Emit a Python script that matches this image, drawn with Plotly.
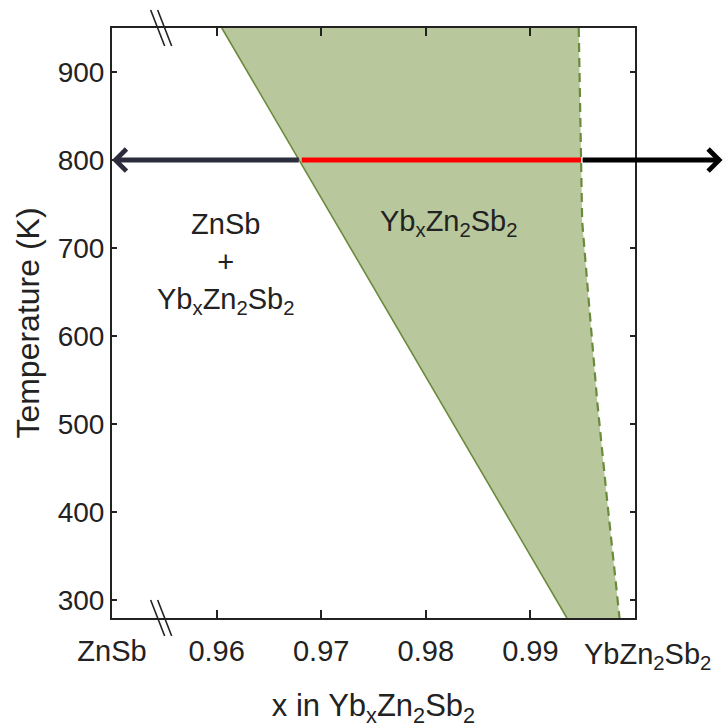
import plotly.graph_objects as go

# ---- data ----
x_tickvals = [0.95, 0.96, 0.97, 0.98, 0.99]
x_ticktext = ["ZnSb", "0.96", "0.97", "0.98", "0.99"]
y_tickvals = [300, 400, 500, 600, 700, 800, 900]
x_range = [0.95, 1.0]
y_range = [280, 950]

# left (ZnSb-rich) phase boundary of Yb_xZn2Sb2
left_T = [950, 280]
left_x = [0.9605, 0.99349]
# right (Yb-rich) phase boundary
right_T = [950, 800, 730, 640, 527, 413, 280]
right_x = [0.99462, 0.99485, 0.99495, 0.99558, 0.99638, 0.99734, 0.99852]

# isotherm at 800 K
iso_T = 800
iso_left_end = 0.95
iso_red_start = 0.9680
iso_red_end = 0.99485
iso_right_end = 1.00837

break_x = 0.9547

FONT = "Liberation Sans, Arial, Helvetica, sans-serif"
FILL = "#b8c89c"
EDGE = "#6a8a3c"

fig = go.Figure()

# shaded single-phase region
fig.add_trace(go.Scatter(
    x=left_x + right_x[::-1], y=left_T + right_T[::-1],
    fill="toself", fillcolor=FILL, mode="none", hoverinfo="skip", showlegend=False))
fig.add_trace(go.Scatter(
    x=left_x, y=left_T, mode="lines",
    line=dict(color=EDGE, width=1.6), hoverinfo="skip", showlegend=False))
fig.add_trace(go.Scatter(
    x=right_x, y=right_T, mode="lines",
    line=dict(color=EDGE, width=2.2, dash="9px,6px"), hoverinfo="skip", showlegend=False))

annotations = []
# left arrow (dark navy)
annotations.append(dict(x=iso_left_end, y=iso_T, ax=iso_red_start, ay=iso_T,
                        xref="x", yref="y", axref="x", ayref="y", text="",
                        showarrow=True, arrowhead=4, arrowsize=0.85, arrowwidth=5,
                        arrowcolor="#2b2d3c"))
# red segment
annotations.append(dict(x=iso_red_end, y=iso_T, ax=iso_red_start, ay=iso_T,
                        xref="x", yref="y", axref="x", ayref="y", text="",
                        showarrow=True, arrowhead=0, arrowwidth=5,
                        arrowcolor="#ff0000"))
# right arrow (black)
annotations.append(dict(x=iso_right_end, y=iso_T, ax=iso_red_end, ay=iso_T,
                        xref="x", yref="y", axref="x", ayref="y", text="",
                        showarrow=True, arrowhead=4, arrowsize=0.85, arrowwidth=5,
                        arrowcolor="#000000"))

# region labels
annotations.append(dict(x=0.9609, y=683, xref="x", yref="y", showarrow=False,
                        text="ZnSb<br>+<br>Yb<sub>x</sub>Zn<sub>2</sub>Sb<sub>2</sub>",
                        font=dict(family=FONT, size=29, color="#222222"), align="center"))
annotations.append(dict(x=0.9822, y=728, xref="x", yref="y", showarrow=False,
                        text="Yb<sub>x</sub>Zn<sub>2</sub>Sb<sub>2</sub>",
                        font=dict(family=FONT, size=29, color="#222222")))
# right end label on x axis
annotations.append(dict(x=1.0, y=0, xref="x", yref="paper", showarrow=False,
                        xshift=12, yshift=-18, yanchor="top",
                        text="YbZn<sub>2</sub>Sb<sub>2</sub>",
                        font=dict(family=FONT, size=29, color="#222222")))

shapes = []
for dx in (-3.5, 3.5):
    for yanchor in (0, 1):
        shapes.append(dict(type="line", xref="x", yref="paper",
                           xsizemode="pixel", ysizemode="pixel",
                           xanchor=break_x, yanchor=yanchor,
                           x0=dx - 7, x1=dx + 7, y0=18, y1=-18,
                           line=dict(color="#222222", width=1.6)))

fig.update_layout(
    width=724, height=728,
    margin=dict(l=112, r=89, t=28, b=110),
    paper_bgcolor="white", plot_bgcolor="white",
    showlegend=False,
    annotations=annotations,
    shapes=shapes,
    font=dict(family=FONT, color="#222222"),
)
fig.update_xaxes(
    range=x_range, tickvals=x_tickvals, ticktext=x_ticktext,
    showgrid=False, zeroline=False,
    showline=True, linecolor="#222222", linewidth=2, mirror="ticks",
    ticks="inside", ticklen=8, tickwidth=1.5, tickcolor="#222222",
    ticklabelstandoff=6,
    tickfont=dict(family=FONT, size=29, color="#222222"),
    title=dict(text="x in Yb<sub>x</sub>Zn<sub>2</sub>Sb<sub>2</sub>",
               font=dict(family=FONT, size=31, color="#222222"), standoff=30),
    automargin=False,
)
fig.update_yaxes(
    range=y_range, tickvals=y_tickvals,
    showgrid=False, zeroline=False,
    showline=True, linecolor="#222222", linewidth=2, mirror="ticks",
    ticks="inside", ticklen=5, tickwidth=1.5, tickcolor="#222222",
    tickfont=dict(family=FONT, size=28, color="#222222"),
    title=dict(text="Temperature (K)",
               font=dict(family=FONT, size=32, color="#222222"), standoff=8),
    automargin=False,
)

fig.write_html("out.html")
